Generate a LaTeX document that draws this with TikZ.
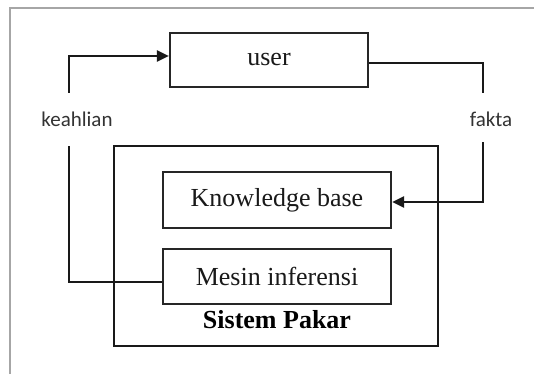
\documentclass[tikz,border=0pt]{standalone}
\usepackage{fontspec}
\setmainfont{Liberation Serif}
\newfontfamily\labelfont{Carlito}
\usetikzlibrary{arrows.meta}
\tikzset{
  boxnode/.style={draw=black!85, line width=2.2pt, minimum width=#1, inner sep=0pt, font=\fontsize{26}{30}\selectfont, text=black!90},
  conn/.style={draw=black!90, line width=2.2pt},
  arr/.style={conn, -{Triangle[length=12pt,width=11pt]}},
  lbl/.style={font=\labelfont\fontsize{21}{24}\selectfont, text=black!80, inner sep=0pt},
  frame/.style={draw=black!35, line width=2.5pt}
}
\begin{document}
\begin{tikzpicture}[x=1pt,y=-1pt]
\useasboundingbox (0,0) rectangle (534,374);
\fill[white] (0,0) rectangle (534,374);
\draw[frame] (10,374) -- (10,8) -- (534,8);
% boxes
\node[boxnode=198pt, minimum height=54pt] (user) at (269,60) {user};
\draw[conn] (114,146) rectangle (438,346);
\node[boxnode=228pt, minimum height=56pt] (kb) at (277,200) {Knowledge base};
\node[boxnode=228pt, minimum height=55pt] (mi) at (277,276.5) {Mesin inferensi};
\node[font=\bfseries\fontsize{26}{30}\selectfont, text=black, inner sep=0pt] (sp) at (277,320) {Sistem Pakar};
% labels
\node[lbl] (keahlian) at (77,119) {keahlian};
\node[lbl] (fakta) at (491,119) {fakta};
% connectors
\coordinate (lb) at (69,282);
\coordinate (lt) at (69,56);
\coordinate (rt) at (483,63);
\coordinate (rb) at (483,202);
\draw[conn] (mi.west |- lb) -- (lb) -- (69,146);
\draw[arr] (69,93) -- (lt) -- (user.west |- lt);
\draw[conn] (user.east |- rt) -- (rt) -- (483,93);
\draw[arr] (483,142) -- (rb) -- (kb.east |- rb);
\end{tikzpicture}
\end{document}
